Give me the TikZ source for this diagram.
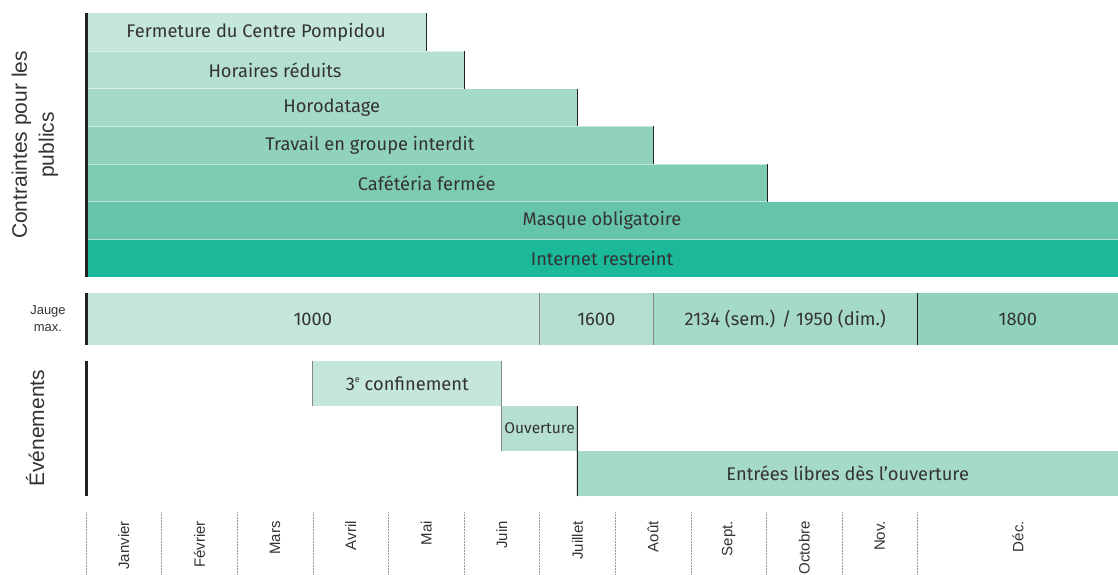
\documentclass[tikz,border=0pt]{standalone}
\usepackage{fontspec}
\setmainfont{Fira Sans}
\newfontfamily\arialf{Liberation Sans}
\definecolor{c1}{HTML}{C5E6DA}
\definecolor{c2}{HTML}{B4DFD1}
\definecolor{c3}{HTML}{A5D9C8}
\definecolor{c4}{HTML}{91D2BD}
\definecolor{c5}{HTML}{7ECBB3}
\definecolor{c6}{HTML}{66C4A9}
\definecolor{c7}{HTML}{1BB899}
\definecolor{txt}{HTML}{333333}
\definecolor{axisc}{HTML}{222222}
\definecolor{edgeg}{HTML}{888888}
\begin{document}
\begin{tikzpicture}[x=1pt,y=-1pt,
  bar/.style={draw=none, inner sep=0pt, outer sep=0pt, anchor=north west, text=txt,
    font=\fontsize{18.3}{22}\selectfont},
  edge/.style={draw=axisc, line width=1pt},
  edgelight/.style={draw=edgeg, line width=1pt},
  sep/.style={draw=white, line width=0.8pt, opacity=0.5},
  axisline/.style={draw=axisc, line width=3pt},
  sidelabel/.style={text=txt, font=\arialf\fontsize{21}{27}\selectfont, align=center, inner sep=0pt},
  monthlabel/.style={text=txt, font=\arialf\fontsize{15}{17}\selectfont, rotate=90, anchor=east, inner sep=0pt},
  monthtick/.style={draw=gray!80, line width=0.5pt, densely dotted}]
\useasboundingbox (0,0) rectangle (1118,575);
\fill[white] (0,0) rectangle (1118,575);

% Constraint bars
\node[bar, fill=c1, minimum width={426.2-86}, minimum height=37.7] (f1) at (86,13.3) {Fermeture du Centre Pompidou};
\node[bar, fill=c2, minimum width={464-86}, minimum height=37.7] (f2) at (86,51) {Horaires réduits};
\node[bar, fill=c3, minimum width={577.4-86}, minimum height=37.7] (f3) at (86,88.7) {Horodatage};
\node[bar, fill=c4, minimum width={653.6-86}, minimum height=37.7] (f4) at (86,126.4) {Travail en groupe interdit};
\node[bar, fill=c5, minimum width={767.5-86}, minimum height=37.7] (f5) at (86,164.1) {Cafétéria fermée};
\node[bar, fill=c6, minimum width={1118-86}, minimum height=37.7] (f6) at (86,201.8) {Masque obligatoire};
\node[bar, fill=c7, minimum width={1118-86}, minimum height=37.7] (f7) at (86,239.5) {Internet restreint};
\foreach \n in {f2,f3,f4,f5,f6,f7} \draw[sep] (\n.north west) -- (\n.north east);
\foreach \n in {f1,f2,f3,f4,f5} \draw[edge] (\n.north east) -- (\n.south east);
\draw[axisline] (f1.north west) -- (f7.south west);

% Jauge
\node[bar, fill=c1, minimum width={539.6-86}, minimum height=52.6] (j1) at (86,292.7) {1000};
\node[bar, fill=c2, minimum width={653-539.6}, minimum height=52.6] (j2) at (539.6,292.7) {1600};
\node[bar, fill=c3, minimum width={917.6-653}, minimum height=52.6] (j3) at (653,292.7) {2134 (sem.) / 1950 (dim.)};
\node[bar, fill=c4, minimum width={1118-917.6}, minimum height=52.6] (j4) at (917.6,292.7) {1800};
\draw[edgelight] (j2.north west) -- (j2.south west);
\draw[edgelight] (j3.north west) -- (j3.south west);
\draw[edge] (j4.north west) -- (j4.south west);
\draw[axisline] (j1.north west) -- (j1.south west);

% Events
\coordinate (evtop) at (86,360.7);
\coordinate (evbot) at (86,496);
\node[bar, fill=c1, minimum width={501.8-312.8}, minimum height=45.3] (e1) at (312.8,360.7) {3\raisebox{0.75ex}{\fontsize{9}{9}\selectfont e} confinement};
\node[bar, fill=c2, minimum width={577.4-501.8}, minimum height=45] (e2) at (501.8,406) {\fontsize{15.5}{18}\selectfont Ouverture};
\node[bar, fill=c3, minimum width={1118-577.4}, minimum height=45] (e3) at (577.4,451) {Entrées libres dès l’ouverture};
\draw[edgelight] (e1.north west) -- (e1.south west);
\draw[edgelight] (e1.north east) -- (e2.south west);
\draw[edge] (e2.north east) -- (e3.south west);
\draw[axisline] (evtop) -- (evbot);

% Side labels
\node[sidelabel, rotate=90] (lc) at (35,145) {Contraintes pour les\\publics};
\node[text=txt, font=\arialf\fontsize{13}{17}\selectfont, align=center, inner sep=0pt] (lj) at (48,319) {Jauge\\max.};
\node[sidelabel, rotate=90] (le) at (35,428.3) {Événements};

% Months
\foreach \i/\m in {0/Janvier,1/Février,2/Mars,3/Avril,4/Mai,5/Juin,6/Juillet,7/Août,8/Sept.,9/Octobre,10/Nov.}{
  \coordinate (t\i a) at ({86+75.6*\i},512);
  \coordinate (t\i b) at ({86+75.6*\i},575);
  \draw[monthtick] (t\i a) -- (t\i b);
  \node[monthlabel] (m\i) at ({86+75.6*\i+37.8},521) {\m};
}
\coordinate (t11a) at (917.6,512);
\coordinate (t11b) at (917.6,575);
\draw[monthtick] (t11a) -- (t11b);
\node[monthlabel] (m11) at (1017.8,521) {Déc.};
\end{tikzpicture}
\end{document}
